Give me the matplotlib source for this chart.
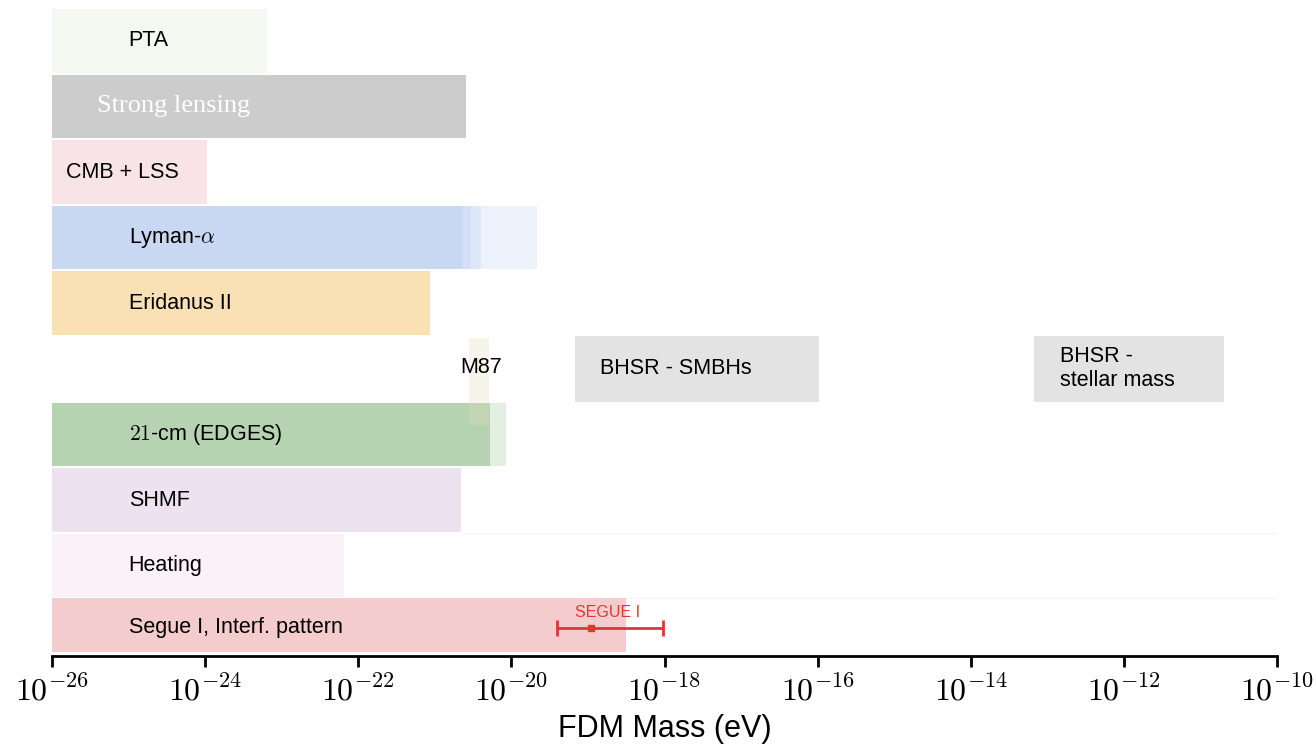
import numpy as np
import matplotlib
matplotlib.use("Agg")
import matplotlib.pyplot as plt

plt.rcParams["font.family"] = ["Liberation Sans", "DejaVu Sans"]
plt.rcParams["mathtext.fontset"] = "cm"

# constraint bands: upper edge of excluded FDM mass (log10 eV), lower edge is 1e-26
rows = ["PTA", "Strong lensing", "CMB + LSS", "Lyman-$\\alpha$", "Eridanus II",
        "BHSR", "$21$-cm (EDGES)", "SHMF", "Heating", "Segue I, Interf. pattern"]
band_end = [-23.19, -20.59, -23.98, -20.645, -21.06, None, -20.28, -20.66, -22.19, -18.50]
band_colors = ["#f3f9f0", "#cccccc", "#f8e3e6", "#c9d8f2", "#f9e1b5",
               None, "#b5d3b1", "#ede3f0", "#faf2f8", "#f5cccd"]

# soft extensions of some bands
lyman_ext = [-19.67, -20.40, -20.53]
lyman_ext_colors = ["#edf1fb", "#dde7f8", "#d3dff5"]
edges_ext = [-20.07]
edges_ext_colors = ["#e3efe1"]

# BHSR excluded windows (log10 eV)
bhsr_lo = [-19.17, -13.17]
bhsr_hi = [-15.98, -10.69]
bhsr_labels = ["BHSR - SMBHs", "BHSR -\nstellar mass"]

# M87 window
m87_lo, m87_hi = -20.55, -20.29

# Segue I measurement (log10 eV)
segue_lo, segue_mid, segue_hi = -19.40, -18.96, -18.02

tick_exp = list(range(-26, -9, 2))

x_min = 1e-26
label_x = [-25.0, -25.41, -25.82, -25.0, -25.0, None, -25.0, -25.0, -25.0, -25.0]

fig = plt.figure(figsize=(13.16, 7.47), dpi=100)
ax = fig.add_axes([52 / 1316, 91 / 747, 1225 / 1316, 648 / 747])
ax.set_xscale("log")
ax.set_xlim(1e-26, 1e-10)
ax.set_ylim(9.378, -0.5)

h = 0.97
# light extensions first
for e, c in zip(lyman_ext, lyman_ext_colors):
    ax.barh(3, 10 ** e - x_min, left=x_min, height=h, color=c, linewidth=0)
for e, c in zip(edges_ext, edges_ext_colors):
    ax.barh(6, 10 ** e - x_min, left=x_min, height=h, color=c, linewidth=0)

for i, (e, c) in enumerate(zip(band_end, band_colors)):
    if e is None:
        continue
    if i == 9:
        ax.barh(8.91, 10 ** e - x_min, left=x_min, height=0.82, color=c, linewidth=0)
    else:
        ax.barh(i, 10 ** e - x_min, left=x_min, height=h, color=c, linewidth=0)

# BHSR boxes
for lo, hi, lab in zip(bhsr_lo, bhsr_hi, bhsr_labels):
    ax.barh(5, 10 ** hi - 10 ** lo, left=10 ** lo, height=1.0, color="#e3e3e3", linewidth=0)
    ax.text(10 ** (lo + 0.33), 5, lab, fontsize=15.5, va="center", ha="left",
            linespacing=1.2)

# M87 box
ax.barh(5.19, 10 ** m87_hi - 10 ** m87_lo, left=10 ** m87_lo, height=1.33,
        color="#e6dcc0", alpha=0.3, linewidth=0)
ax.text(10 ** -20.67, 4.98, "M87", fontsize=15.5, va="center", ha="left")

# faint row separators
for yy, xs in [(7.5, -20.66), (8.5, -22.19)]:
    ax.plot([10 ** xs, 1e-10], [yy, yy], color="#f6f6f6", lw=1, zorder=0)

# band labels
for i, (lab, lx) in enumerate(zip(rows, label_x)):
    if lx is None:
        continue
    yy = 8.95 if i == 9 else i
    if i == 1:
        ax.text(10 ** lx, yy, lab, fontsize=19, color="white", va="center",
                ha="left", family=["Liberation Serif", "DejaVu Serif"])
    else:
        ax.text(10 ** lx, yy, lab, fontsize=15.5, va="center", ha="left")

# Segue I error bar
ax.errorbar([10 ** segue_mid], [8.95],
            xerr=[[10 ** segue_mid - 10 ** segue_lo], [10 ** segue_hi - 10 ** segue_mid]],
            fmt="s", color="#d93a35", ms=5, capsize=6, capthick=2, elinewidth=2)
ax.text(10 ** -18.74, 8.72, "SEGUE I", fontsize=11.5, color="#d93a35",
        ha="center", va="center")

ax.set_yticks([])
for s in ["left", "right", "top"]:
    ax.spines[s].set_visible(False)
ax.spines["bottom"].set_linewidth(2)
ax.set_xticks([10.0 ** k for k in tick_exp])
ax.set_xticklabels([f"$10^{{{k}}}$" for k in tick_exp])
ax.xaxis.set_minor_locator(matplotlib.ticker.NullLocator())
ax.tick_params(axis="x", direction="out", length=8, width=2, labelsize=23, pad=6)
ax.set_xlabel("FDM Mass (eV)", fontsize=22, labelpad=5)

fig.savefig("out.png", dpi=100)
